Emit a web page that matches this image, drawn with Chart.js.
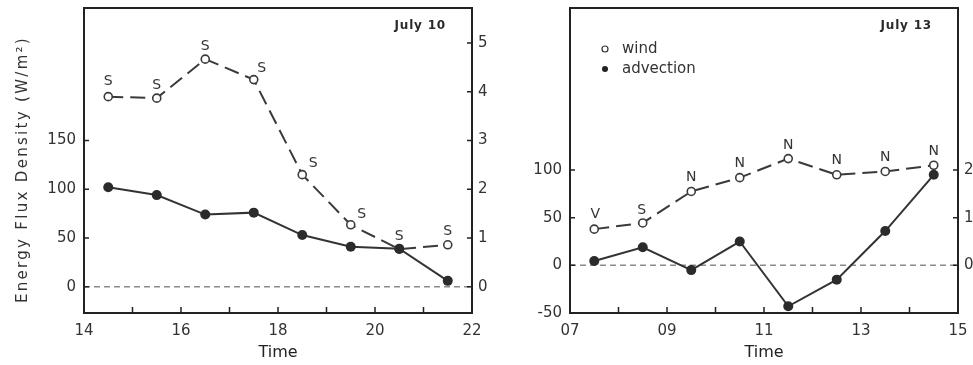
<!DOCTYPE html>
<html>
<head>
<meta charset="utf-8">
<script src="https://cdn.jsdelivr.net/npm/chart.js@4.4.1/dist/chart.umd.min.js"></script>
<style>
  html, body { margin: 0; padding: 0; background: #fff; overflow: hidden; }
  #wrap { position: relative; width: 973px; height: 365px; }
  canvas { position: absolute; top: 0; }
  #left { left: 0; }
  #right { left: 490px; }
</style>
</head>
<body>
<div id="wrap">
  <canvas id="left" width="490" height="365"></canvas>
  <canvas id="right" width="483" height="365"></canvas>
</div>
<script>
// July 10 panel
const tenTimes = [14.5, 15.5, 16.5, 17.5, 18.5, 19.5, 20.5, 21.5];
const tenWind = [3.90, 3.87, 4.67, 4.25, 2.30, 1.27, 0.77, 0.86];
const tenAdvection = [102, 94, 74, 76, 53, 41, 39, 6];
const tenDirection = ['S', 'S', 'S', 'S', 'S', 'S', 'S', 'S'];
const tenFluxTicks = [0, 50, 100, 150];
const tenWindTicks = [0, 1, 2, 3, 4, 5];

// July 13 panel
const thirteenTimes = [7.5, 8.5, 9.5, 10.5, 11.5, 12.5, 13.5, 14.5];
const thirteenWind = [0.76, 0.89, 1.55, 1.84, 2.24, 1.90, 1.97, 2.10];
const thirteenAdvection = [4.5, 19, -5, 25, -43, -15, 36, 95];
const thirteenDirection = ['V', 'S', 'N', 'N', 'N', 'N', 'N', 'N'];
const thirteenFluxTicks = [-50, 0, 50, 100];
const thirteenWindTicks = [0, 1, 2];

const FONT = "'DejaVu Sans', Verdana, sans-serif";
const INK = '#333';

// label nudges for the wind direction letters (pixels)
const tenLabelDx = [0, 0, 0, 8, 11, 11, 0, 0];
const tenLabelDy = [15, 13, 13, 11, 11, 10, 13, 13];
const thirteenLabelDx = [1, -1, 0, 0, 0, 0, 0, 0];
const thirteenLabelDy = [15, 13, 14, 14, 13, 14, 14, 14];

const decorPlugin = {
    id: 'decor',
    beforeDatasetsDraw(chart) {
        const { ctx, chartArea: a } = chart;
        const y0 = chart.scales.y.getPixelForValue(0);
        ctx.save();
        ctx.strokeStyle = '#8a8a8a';
        ctx.lineWidth = 1.5;
        ctx.setLineDash([6, 4]);
        ctx.beginPath();
        ctx.moveTo(a.left, y0);
        ctx.lineTo(a.right, y0);
        ctx.stroke();
        ctx.restore();
    },
    afterDatasetsDraw(chart) {
        const { ctx, chartArea: a } = chart;
        const cfg = chart.options.plugins.decor;
        ctx.save();

        // frame
        ctx.strokeStyle = '#222';
        ctx.lineWidth = 2;
        ctx.strokeRect(a.left, a.top, a.right - a.left, a.bottom - a.top);

        // inward ticks
        ctx.lineWidth = 1.5;
        ctx.beginPath();
        chart.scales.x.ticks.forEach(t => {
            const px = chart.scales.x.getPixelForValue(t.value);
            ctx.moveTo(px, a.bottom);
            ctx.lineTo(px, a.bottom - 6);
        });
        chart.scales.y.ticks.forEach(t => {
            const py = chart.scales.y.getPixelForValue(t.value);
            ctx.moveTo(a.left, py);
            ctx.lineTo(a.left + 5, py);
        });
        chart.scales.y2.ticks.forEach(t => {
            const py = chart.scales.y2.getPixelForValue(t.value);
            ctx.moveTo(a.right, py);
            ctx.lineTo(a.right - 5, py);
        });
        ctx.stroke();

        // wind direction letters
        const meta = chart.getDatasetMeta(0);
        ctx.fillStyle = INK;
        ctx.font = '14px ' + FONT;
        ctx.textAlign = 'center';
        ctx.textBaseline = 'middle';
        meta.data.forEach((pt, i) => {
            ctx.fillText(cfg.letters[i], pt.x + cfg.dx[i], pt.y - cfg.dy[i]);
        });

        // date tag
        ctx.font = 'bold 12px ' + FONT;
        ctx.letterSpacing = '0.8px';
        ctx.textAlign = 'right';
        ctx.fillStyle = '#2a2a2a';
        ctx.fillText(cfg.tag, a.right - 26, a.top + 18);
        ctx.letterSpacing = '0px';

        // legend
        if (cfg.legend) {
            ctx.font = '15px ' + FONT;
            ctx.textAlign = 'left';
            ctx.fillStyle = INK;
            chart.data.datasets.forEach((ds, i) => {
                const ly = a.top + 41 + i * 20;
                const lx = a.left + 35;
                ctx.beginPath();
                ctx.arc(lx, ly, 3, 0, Math.PI * 2);
                if (i === 0) {
                    ctx.fillStyle = '#fff';
                    ctx.fill();
                    ctx.strokeStyle = INK;
                    ctx.lineWidth = 1.2;
                    ctx.stroke();
                } else {
                    ctx.fillStyle = '#222';
                    ctx.fill();
                }
                ctx.fillStyle = INK;
                ctx.fillText(ds.label, lx + 17, ly);
            });
        }

        // y title with wider letter spacing
        if (cfg.yTitle) {
            ctx.translate(23, (a.top + a.bottom) / 2 + 9);
            ctx.rotate(-Math.PI / 2);
            ctx.font = '15px ' + FONT;
            ctx.letterSpacing = '2.3px';
            ctx.textAlign = 'center';
            ctx.fillStyle = INK;
            ctx.fillText(cfg.yTitle, 0, 0);
        }
        ctx.restore();
    }
};

function fixTicks(values) {
    return scale => { scale.ticks = values.map(v => ({ value: v })); };
}

function noPadding(s) {
    s.paddingTop = 0;
    s.paddingBottom = 0;
    s.paddingLeft = 0;
    s.paddingRight = 0;
}

function makePanel(canvasId, p) {
    const tickFont = { family: FONT, size: 15 };
    return new Chart(document.getElementById(canvasId), {
        type: 'line',
        data: {
            datasets: [{
                label: 'wind',
                yAxisID: 'y2',
                order: 1,
                data: p.times.map((t, i) => ({ x: t, y: p.wind[i] })),
                borderColor: '#3a3a3a',
                borderWidth: 2,
                borderDash: [15, 7],
                pointRadius: 4,
                pointBorderWidth: 1.6,
                pointBackgroundColor: '#fff',
                pointBorderColor: '#3a3a3a',
                tension: 0
            }, {
                label: 'advection',
                yAxisID: 'y',
                order: 0,
                data: p.times.map((t, i) => ({ x: t, y: p.advection[i] })),
                borderColor: '#333',
                borderWidth: 2,
                pointRadius: 5,
                pointBorderWidth: 0,
                pointBackgroundColor: '#2b2b2b',
                tension: 0
            }]
        },
        options: {
            responsive: false,
            animation: false,
            events: [],
            layout: { padding: { top: 8, left: 0, right: 0, bottom: 0 } },
            plugins: {
                legend: { display: false },
                tooltip: { enabled: false },
                decor: {
                    letters: p.letters, dx: p.dx, dy: p.dy, tag: p.tag,
                    legend: p.legend, yTitle: p.yTitle
                }
            },
            scales: {
                x: {
                    type: 'linear',
                    min: p.xMin, max: p.xMax,
                    afterBuildTicks: scale => {
                        const ticks = [];
                        for (let v = p.xMin; v <= p.xMax; v++) ticks.push({ value: v });
                        scale.ticks = ticks;
                    },
                    afterFit: s => { s.height = 52; noPadding(s); },
                    grid: { display: false, drawTicks: false },
                    border: { display: false },
                    ticks: {
                        autoSkip: false, maxRotation: 0, padding: 9,
                        color: INK, font: tickFont,
                        callback: v => (v - p.xMin) % 2 === 0 ? String(v).padStart(2, '0') : ''
                    },
                    title: {
                        display: true, text: 'Time', color: '#222',
                        font: { family: FONT, size: 16 },
                        padding: { top: 0, bottom: 3 }
                    }
                },
                y: {
                    position: 'left',
                    min: p.yMin, max: p.yMax,
                    afterBuildTicks: fixTicks(p.fluxTicks),
                    afterFit: s => { s.width = p.leftWidth; noPadding(s); },
                    grid: { display: false, drawTicks: false },
                    border: { display: false },
                    ticks: { padding: 8, color: INK, font: tickFont }
                },
                y2: {
                    position: 'right',
                    min: p.yMin / 50, max: p.yMax / 50,
                    afterBuildTicks: fixTicks(p.windTicks),
                    afterFit: s => { s.width = p.rightWidth; noPadding(s); },
                    grid: { display: false, drawTicks: false },
                    border: { display: false },
                    ticks: { padding: 6, color: INK, font: tickFont }
                }
            }
        },
        plugins: [decorPlugin]
    });
}

makePanel('left', {
    times: tenTimes, wind: tenWind, advection: tenAdvection,
    letters: tenDirection, dx: tenLabelDx, dy: tenLabelDy,
    fluxTicks: tenFluxTicks, windTicks: tenWindTicks,
    xMin: 14, xMax: 22, yMin: -27, yMax: 286,
    leftWidth: 84, rightWidth: 18,
    tag: 'July 10', legend: false,
    yTitle: 'Energy Flux Density (W/m\u00B2)'
});

makePanel('right', {
    times: thirteenTimes, wind: thirteenWind, advection: thirteenAdvection,
    letters: thirteenDirection, dx: thirteenLabelDx, dy: thirteenLabelDy,
    fluxTicks: thirteenFluxTicks, windTicks: thirteenWindTicks,
    xMin: 7, xMax: 15, yMin: -50, yMax: 270,
    leftWidth: 80, rightWidth: 15,
    tag: 'July 13', legend: true,
    yTitle: null
});
</script>
</body>
</html>
